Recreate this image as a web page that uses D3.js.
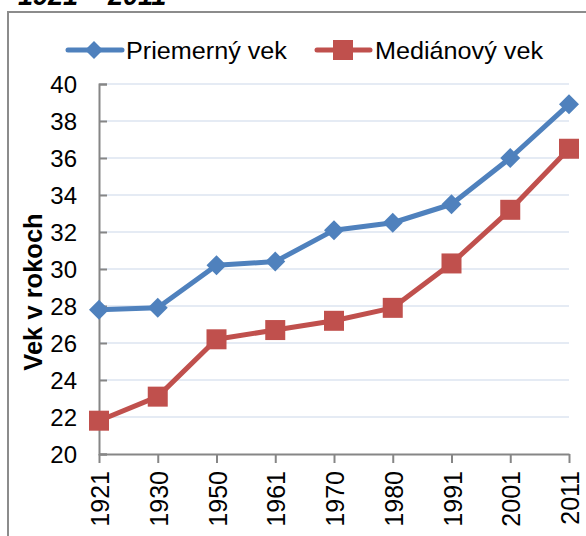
<!DOCTYPE html>
<html><head><meta charset="utf-8">
<script src="https://cdn.jsdelivr.net/npm/d3@7"></script>
<style>body{margin:0;background:#fff;}svg{display:block;font-family:"Liberation Sans",Arial,sans-serif;}</style>
</head><body>
<script>
const years = ["1921","1930","1950","1961","1970","1980","1991","2001","2011"];
const priemerny = [27.8, 27.9, 30.2, 30.4, 32.1, 32.5, 33.5, 36.0, 38.9];
const medianovy = [21.8, 23.1, 26.2, 26.7, 27.2, 27.9, 30.3, 33.2, 36.5];
const yTicks = [20,22,24,26,28,30,32,34,36,38,40];
const seriesNames = ["Priemerný vek","Mediánový vek"];
const title = "1921 – 2011";
const yTitle = "Vek v rokoch";

const W=586,H=536;
const svg=d3.select("body").append("svg").attr("width",W).attr("height",H);
const x=d3.scalePoint().domain(years).range([99,569]);
const y=d3.scaleLinear().domain([20,40]).range([454,84]);
const blue="#4f81bd", red="#c0504d", axisCol="#868686";

// title (cut off at the top, as in the reference)
svg.append("text").attr("x",18).attr("y",5).attr("font-size",27).attr("font-weight","bold")
  .attr("font-style","italic").attr("fill","#000").text(title);
// frame
svg.append("path").attr("d",`M8,${H} V12 H${W}`).attr("fill","none").attr("stroke","#8c8c8c").attr("stroke-width",2);

// gridlines
svg.append("g").selectAll("line").data(yTicks.slice(1)).join("line")
  .attr("x1",100).attr("x2",569).attr("y1",d=>y(d)).attr("y2",d=>y(d))
  .attr("stroke","#dce5f1").attr("stroke-width",1.5);

// y axis
const yAx=svg.append("g").attr("transform","translate(99,0)")
  .call(d3.axisRight(y).tickValues(yTicks).tickSize(8).tickFormat(""));
yAx.select(".domain").attr("stroke",axisCol).attr("stroke-width",2);
yAx.selectAll(".tick line").attr("stroke",axisCol).attr("stroke-width",2);
svg.append("g").selectAll("text").data(yTicks).join("text")
  .attr("x",77).attr("y",d=>y(d)).attr("dy","0.36em").attr("text-anchor","end")
  .attr("font-size",24).attr("fill","#000").text(d=>d);

// x axis
const xAx=svg.append("g").attr("transform","translate(0,454)")
  .call(d3.axisBottom(x).tickSize(9).tickSizeOuter(0).tickFormat(""));
xAx.select(".domain").attr("stroke",axisCol).attr("stroke-width",2);
xAx.selectAll(".tick line").attr("stroke",axisCol).attr("stroke-width",2);
svg.append("g").selectAll("text").data(years).join("text")
  .attr("transform",d=>`translate(${x(d)+1},471) rotate(-90)`).attr("dy","0.36em")
  .attr("text-anchor","end").attr("font-size",25).attr("fill","#000").text(d=>d);

// y title
svg.append("text").attr("transform","translate(33,292) rotate(-90)").attr("dy","0.36em")
  .attr("text-anchor","middle").attr("font-size",25.5).attr("font-weight","bold").text(yTitle);

const line=d3.line().x((d,i)=>x(years[i])).y(d=>y(d));
function diamond(g,cx,cy,s){g.append("path").attr("d",`M${cx},${cy-s} L${cx+s},${cy} L${cx},${cy+s} L${cx-s},${cy}Z`).attr("fill",blue);}
function square(g,cx,cy,s){g.append("rect").attr("x",cx-s).attr("y",cy-s).attr("width",2*s).attr("height",2*s).attr("fill",red);}

svg.append("path").datum(priemerny).attr("d",line).attr("fill","none").attr("stroke",blue).attr("stroke-width",5).attr("stroke-linejoin","round");
svg.append("path").datum(medianovy).attr("d",line).attr("fill","none").attr("stroke",red).attr("stroke-width",5).attr("stroke-linejoin","round");
const mk=svg.append("g");
priemerny.forEach((v,i)=>diamond(mk,x(years[i]),y(v),10));
medianovy.forEach((v,i)=>square(mk,x(years[i]),y(v),10));

// legend
const lg=svg.append("g");
lg.append("line").attr("x1",68).attr("x2",122).attr("y1",50).attr("y2",50).attr("stroke",blue).attr("stroke-width",5).attr("stroke-linecap","round");
diamond(lg,94,50,9);
lg.append("text").attr("transform","translate(126,50) scale(1.05,1)").attr("dy","0.36em").attr("font-size",24).text(seriesNames[0]);
lg.append("line").attr("x1",317).attr("x2",370).attr("y1",50).attr("y2",50).attr("stroke",red).attr("stroke-width",5).attr("stroke-linecap","round");
square(lg,343,50,10);
lg.append("text").attr("transform","translate(375,50) scale(1.05,1)").attr("dy","0.36em").attr("font-size",24).text(seriesNames[1]);
</script>
</body></html>
